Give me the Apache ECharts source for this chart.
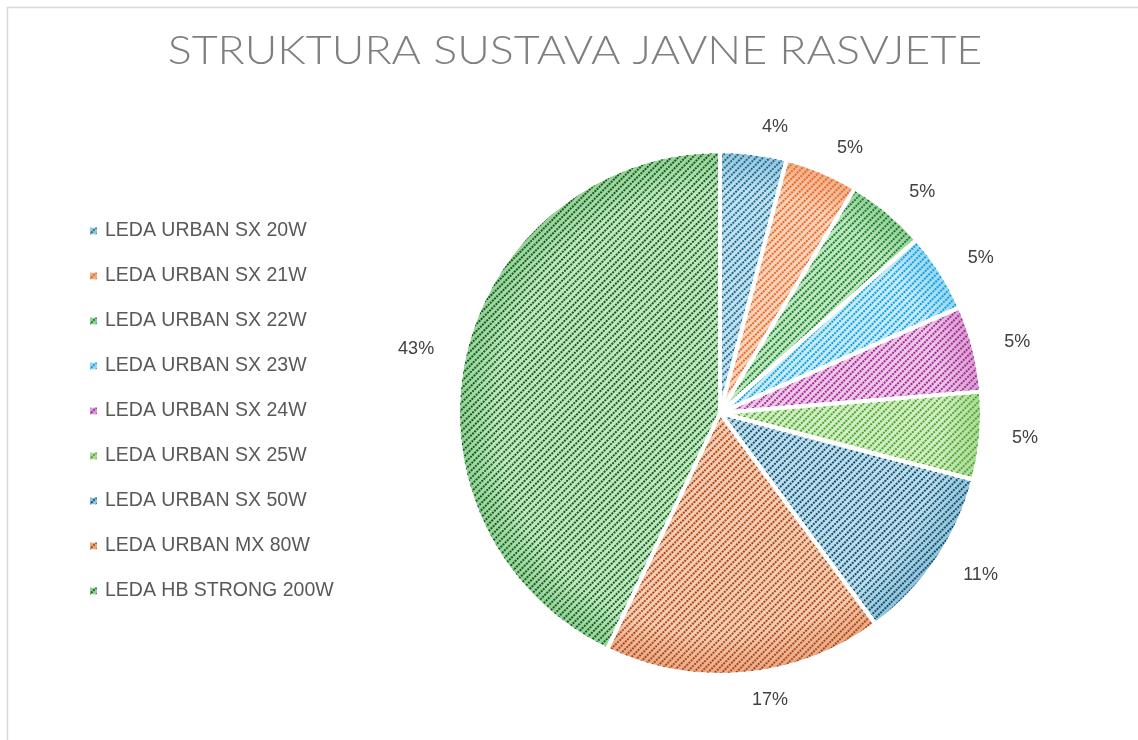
<!DOCTYPE html>
<html>
<head>
<meta charset="utf-8">
<script src="https://cdn.jsdelivr.net/npm/echarts@6/dist/echarts.min.js"></script>
<style>
  html, body { margin: 0; padding: 0; background: #fff; }
  #main { width: 1138px; height: 740px; }
</style>
</head>
<body>
<div id="main"></div>
<script>
// podaci
var titleText = 'STRUKTURA SUSTAVA JAVNE RASVJETE';
var categories = ['LEDA URBAN SX 20W', 'LEDA URBAN SX 21W', 'LEDA URBAN SX 22W', 'LEDA URBAN SX 23W',
    'LEDA URBAN SX 24W', 'LEDA URBAN SX 25W', 'LEDA URBAN SX 50W', 'LEDA URBAN MX 80W', 'LEDA HB STRONG 200W'];
var shares = [4.1, 4.5, 4.9, 4.9, 5.3, 5.4, 10.8, 17.2, 42.9]; // udio u %
// boje: pruge / podloga / rub
var stripeColors = ['#1f6a8c', '#e26a2a', '#1c7a33', '#129fd8', '#9e2c92', '#4fa52f', '#134e69', '#a9491a', '#165c22'];
var fillColors   = ['#c2e2f2', '#fbd3b9', '#c0e9c0', '#c6ebfa', '#efc7e9', '#d2eec4', '#bcdeee', '#f6cdb3', '#c0e9c0'];
var edgeColors   = ['#94c6de', '#f1ae86', '#92d194', '#95d6f1', '#db9dd2', '#abdb98', '#8fc2da', '#eaa783', '#92d194'];

var cx = 720, cy = 413, R = 262;

var pieData = categories.map(function (name, i) {
    return {
        name: name,
        value: shares[i],
        itemStyle: {
            color: {
                type: 'radial', x: cx, y: cy, r: R, global: true,
                colorStops: [
                    { offset: 0, color: fillColors[i] },
                    { offset: 0.85, color: fillColors[i] },
                    { offset: 1, color: edgeColors[i] }
                ]
            },
            decal: {
                symbol: 'rect',
                symbolSize: 1,
                dashArrayX: [2, 1],
                dashArrayY: [1.6, 3],
                rotation: -Math.PI / 4,
                color: stripeColors[i]
            }
        }
    };
});

var myChart = echarts.init(document.getElementById('main'));
myChart.setOption({
    animation: false,
    backgroundColor: '#fff',
    aria: { enabled: true, decal: { show: true } },
    legend: {
        orient: 'vertical',
        left: 88,
        top: 221,
        padding: 0,
        itemWidth: 9,
        itemHeight: 9,
        itemGap: 25,
        icon: 'rect',
        data: categories,
        textStyle: {
            fontFamily: 'Liberation Sans',
            fontSize: 19.5,
            color: '#595959',
            lineHeight: 20,
            padding: [0, 0, 0, 2]
        }
    },
    graphic: [{
        type: 'rect',
        shape: { x: 7.5, y: 7.5, width: 1300, height: 900 },
        style: { fill: 'none', stroke: '#d9d9d9', lineWidth: 1.5 },
        silent: true
    }, {
        // naslov, malo razvučen kao u izvorniku
        type: 'text',
        x: 575,
        y: 51,
        scaleX: 1.15,
        silent: true,
        style: {
            text: titleText,
            font: '300 39px Lato',
            fill: '#7f7f7f',
            align: 'center',
            verticalAlign: 'middle'
        }
    }],
    series: [{
        type: 'pie',
        center: [cx, cy],
        radius: R,
        startAngle: 90,
        clockwise: true,
        percentPrecision: 0,
        itemStyle: { borderColor: '#fff', borderWidth: 4 },
        label: {
            show: true,
            position: 'outside',
            formatter: '{d}%',
            fontFamily: 'Liberation Sans',
            fontSize: 18,
            color: '#404040'
        },
        labelLine: { show: false, length: 26, length2: 0 },
        emphasis: { disabled: true },
        data: pieData
    }]
});
</script>
</body>
</html>
